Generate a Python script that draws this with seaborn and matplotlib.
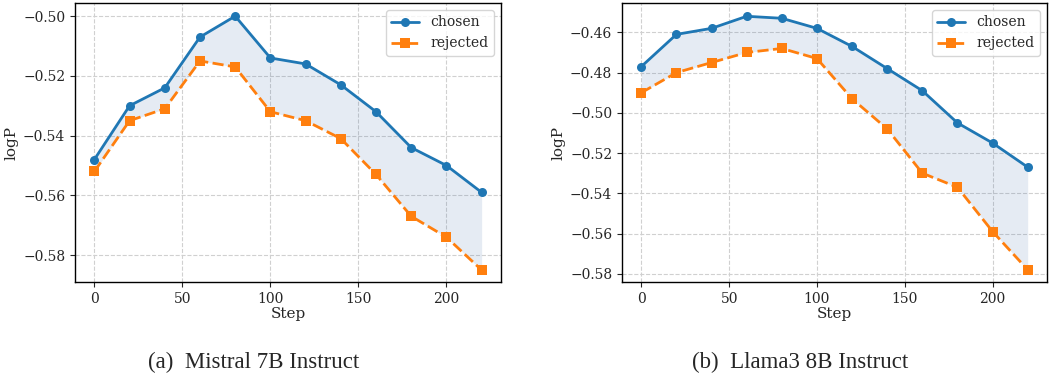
import numpy as np
import pandas as pd
import matplotlib
matplotlib.use("Agg")
import matplotlib.pyplot as plt
import seaborn as sns

steps = [0, 20, 40, 60, 80, 100, 120, 140, 160, 180, 200, 220]
mistral_chosen = [-0.548, -0.530, -0.524, -0.507, -0.500, -0.514, -0.516, -0.523, -0.532, -0.544, -0.550, -0.559]
mistral_rejected = [-0.552, -0.535, -0.531, -0.515, -0.517, -0.532, -0.535, -0.541, -0.553, -0.567, -0.574, -0.585]
llama_chosen = [-0.477, -0.461, -0.458, -0.452, -0.453, -0.458, -0.467, -0.478, -0.489, -0.505, -0.515, -0.527]
llama_rejected = [-0.490, -0.480, -0.475, -0.470, -0.468, -0.473, -0.493, -0.508, -0.530, -0.537, -0.559, -0.578]
captions = ["(a)  Mistral 7B Instruct", "(b)  Llama3 8B Instruct"]
y_ticks = [[-0.50, -0.52, -0.54, -0.56, -0.58], [-0.46, -0.48, -0.50, -0.52, -0.54, -0.56, -0.58]]

sns.set_style("ticks")
plt.rcParams["font.family"] = ["DejaVu Serif"]
plt.rcParams["mathtext.fontset"] = "dejavuserif"

fig = plt.figure(figsize=(10.5, 3.75), dpi=100)
ax1 = fig.add_axes([75/1050, 1-282/375, 426/1050, 279/375])
ax2 = fig.add_axes([622/1050, 1-282/375, 425/1050, 279/375])

blue = "#1f77b4"
orange = "#ff7f0e"
cap_x = [253.5/1050, 800/1050]
for i, (ax, ch, rj, cap, yt) in enumerate([(ax1, mistral_chosen, mistral_rejected, captions[0], y_ticks[0]),
                                           (ax2, llama_chosen, llama_rejected, captions[1], y_ticks[1])]):
    df = pd.DataFrame({"Step": steps * 2, "logP": ch + rj,
                       "kind": ["chosen"] * len(steps) + ["rejected"] * len(steps)})
    ax.fill_between(steps, ch, rj, color="#2f61a3", alpha=0.12, linewidth=0, zorder=1)
    sns.lineplot(data=df, x="Step", y="logP", hue="kind", style="kind",
                 palette=[blue, orange], markers=["o", "s"], dashes=[(None, None), (4, 1.6)],
                 markersize=6.5, linewidth=2, markeredgewidth=0, ax=ax, zorder=3)
    ax.grid(True, linestyle="--", color="#d0d0d0", linewidth=0.8, zorder=0)
    ax.set_axisbelow(True)
    ax.set_yticks(yt)
    ax.set_xticks([0, 50, 100, 150, 200])
    ax.tick_params(labelsize=10, length=3.5, width=0.8)
    ax.set_xlabel("Step", fontsize=11, labelpad=1)
    ax.set_ylabel("logP", fontsize=11, labelpad=3)
    for s in ax.spines.values():
        s.set_linewidth(1.0)
        s.set_color("black")
    leg = ax.legend(loc="upper right", fontsize=10, frameon=True, fancybox=True,
                    framealpha=0.8, edgecolor="#cccccc", handlelength=2.0)
    fig.text(cap_x[i], 1 - 362/375, cap, ha="center", va="center",
             fontsize=16.5, family=["Liberation Serif"])

ax1.set_xlim(-11, 231)
ax1.set_ylim(-0.589, -0.4956)
ax2.set_xlim(-11, 231)
ax2.set_ylim(-0.5841, -0.4454)

fig.savefig("out.png", dpi=100)
